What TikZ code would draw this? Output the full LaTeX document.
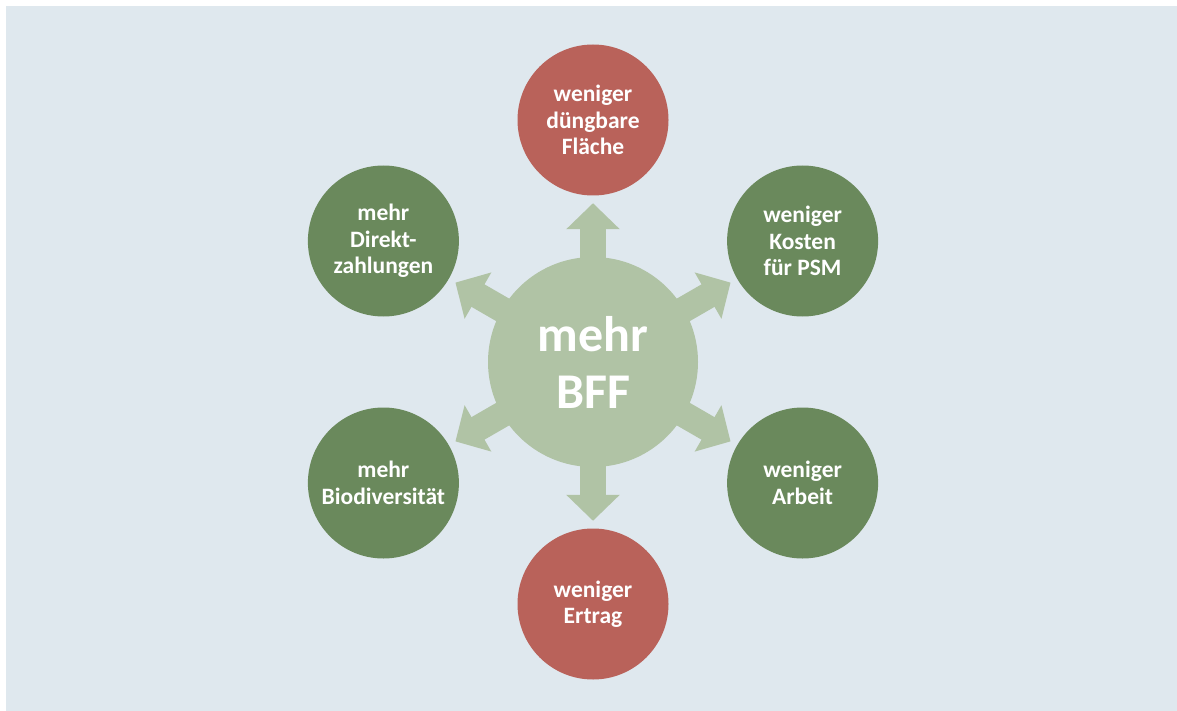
\documentclass[tikz,border=0pt]{standalone}
\usepackage{fontspec}
\setmainfont{Carlito}
\usetikzlibrary{arrows.meta}
\definecolor{bgblue}{RGB}{223,232,238}
\definecolor{redc}{RGB}{185,98,90}
\definecolor{greenc}{RGB}{106,137,92}
\definecolor{lightg}{RGB}{176,195,165}
\pgfdeclarelayer{bglayer}
\pgfdeclarelayer{arrowlayer}
\pgfsetlayers{bglayer,arrowlayer,main}
\tikzset{
  outer/.style={circle, minimum size=151pt, inner sep=0pt, text=white,
    font=\bfseries\fontsize{23.5}{26.5}\selectfont, align=center},
  goodc/.style={outer, fill=greenc},
  badc/.style={outer, fill=redc},
  hub/.style={circle, minimum size=210pt, inner sep=0pt, fill=lightg, text=white,
    font=\bfseries\fontsize{50}{57}\selectfont, align=center},
  fat/.style={draw=lightg, line width=26pt, shorten >=7.5pt,
    -{Triangle[width=52pt,length=26pt]}}
}
\begin{document}
\begin{tikzpicture}[x=1pt,y=-1pt]
\useasboundingbox (0,0) rectangle (1177,711);
\begin{pgfonlayer}{bglayer}
\fill[bgblue] (6,6) rectangle (1177,711);
\end{pgfonlayer}
\node[hub] (c) at (593,362) {mehr\\BFF};
\node[badc] (t) at (593,120) {weniger\\düngbare\\Fläche};
\node[goodc] (ur) at (802.6,241) {weniger\\Kosten\\für PSM};
\node[goodc] (lr) at (802.6,483) {weniger\\Arbeit};
\node[badc] (b) at (593,604) {weniger\\Ertrag};
\node[goodc] (ll) at (383.4,483) {mehr\\Biodiversität};
\node[goodc] (ul) at (383.4,241) {mehr\\Direkt-\\zahlungen};
\begin{pgfonlayer}{arrowlayer}
\foreach \o in {t,ur,lr,b,ll,ul}{
  \draw[fat] (c.center) -- (\o);
}
\end{pgfonlayer}
\end{tikzpicture}
\end{document}
